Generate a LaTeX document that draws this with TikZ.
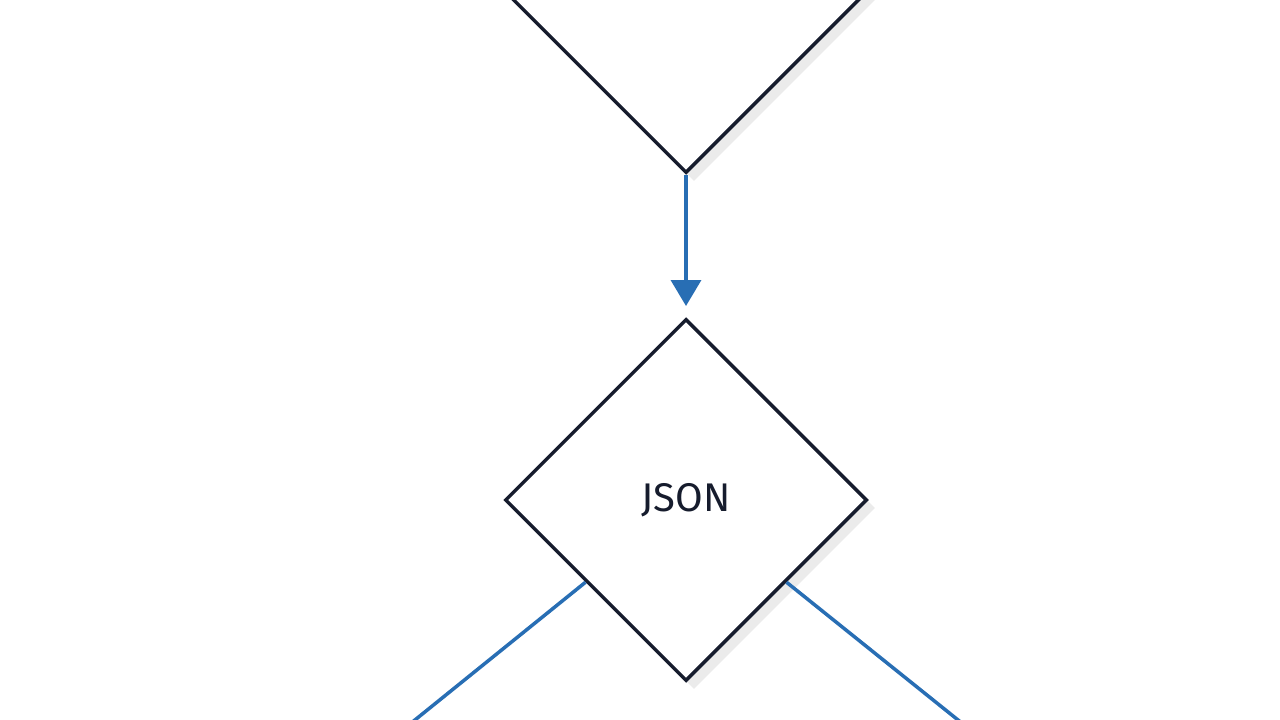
\documentclass[tikz,border=0pt]{standalone}
\usepackage{fontspec}
\setmainfont{Fira Sans}
\usetikzlibrary{shapes.geometric,arrows.meta,calc}
\definecolor{edge}{RGB}{22,28,45}
\definecolor{conblue}{RGB}{40,110,180}
\begin{document}
\begin{tikzpicture}[x=1pt,y=-1pt,
  dia/.style={diamond,draw=edge,line width=3.5pt,fill=white,minimum width=362pt,minimum height=362pt,inner sep=0pt,aspect=1},
  shad/.style={diamond,fill=black!8,minimum width=362pt,minimum height=362pt,inner sep=0pt,aspect=1},
  conn/.style={draw=conblue,line width=3.5pt},
  arr/.style={conn,-{Triangle[length=26pt,width=30pt]}}]
\useasboundingbox (0,0) rectangle (1280,720);
\fill[white] (0,0) rectangle (1280,720);
\clip (0,0) rectangle (1280,720);
\node[shad] at (694,-0) {};
\node[dia] (top) at (686,-8) {};
\node[shad] at (694,508) {};
\node[dia,text=edge] (json) at (686,500) {\fontsize{40}{48}\selectfont JSON};
\coordinate (ll) at (405,728);
\coordinate (lr) at (968,728);
\coordinate (tip) at (686,306);
\draw[arr] (top.south) -- (tip);
\draw[conn] ($(json.south west)!0.1!(json.west)$) -- (ll);
\draw[conn] ($(json.south east)!0.1!(json.east)$) -- (lr);
\end{tikzpicture}
\end{document}
